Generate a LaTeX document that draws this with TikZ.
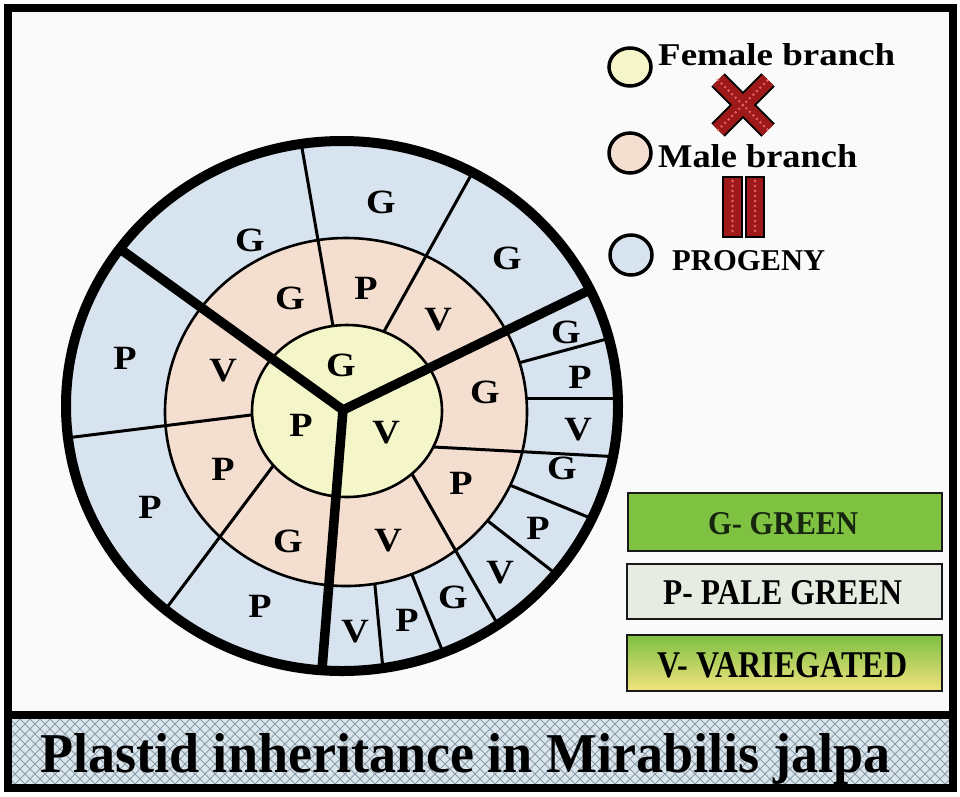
\documentclass[tikz,border=0pt]{standalone}
\usepackage{fontspec}
\setmainfont{Liberation Serif}
\usetikzlibrary{calc}
\definecolor{bluecell}{HTML}{D7E3EE}
\definecolor{pinkcell}{HTML}{F3DED0}
\definecolor{yelcell}{HTML}{F4F6C9}
\definecolor{boxgreen}{HTML}{7FC241}
\definecolor{boxpale}{HTML}{E7ECE3}
\definecolor{vtop}{HTML}{7DC042}
\definecolor{vmid}{HTML}{A9CF52}
\definecolor{vbot}{HTML}{F2E37E}
\definecolor{hatchbg}{HTML}{DAE6EE}
\definecolor{hatchln}{HTML}{8E9CA6}
\definecolor{crossred}{HTML}{9E1A1A}
\definecolor{dotred}{HTML}{E8676A}
\definecolor{gtext}{HTML}{17260F}
\definecolor{paper}{HTML}{FAFAFA}
\newcommand{\wl}[1]{\scalebox{1.12}[1]{#1}}
\begin{document}
\begin{tikzpicture}[x=1pt,y=-1pt,
  lt/.style={font=\fontsize{34}{34}\selectfont\bfseries, inner sep=0pt},
  lab/.style={anchor=base west, inner sep=0pt},
  thinl/.style={line width=3pt},
  thickl/.style={line width=9.5pt, line join=miter},
  ring/.style={draw=black, line width=2.6pt},
  legcirc/.style={draw=black, line width=3.5pt},
  legbox/.style={draw=black!90, line width=2pt},
  hatch/.style={draw=hatchln, line width=0.8pt},
  redbar/.style={fill=crossred, draw=black, line width=1.5pt},
  reddots/.style={draw=dotred, line width=2.6pt, line cap=round, dash pattern=on 0pt off 5pt}]
\useasboundingbox (0,0) rectangle (960,796);
\fill[white] (0,0) rectangle (960,796);
\fill[paper] (8,8) rectangle (953,715);

% ---------- big circle ----------
\begin{scope}
\clip (342,406) ellipse [x radius=276pt, y radius=265pt];
\fill[bluecell] (342,406) ellipse [x radius=276pt, y radius=265pt];
% progeny-only dividers
\draw[thinl] (500,368) -- (625,334);
\draw[thinl] (505,398) -- (630,398);
\draw[thinl] (495,479) -- (605,524);
\draw[thinl] (475,511) -- (565,581);
\draw[thinl] (405,557) -- (450,670);
\draw[thinl] (373,565) -- (384,680);
% male ring
\fill[pinkcell] (346,412) ellipse [x radius=181pt, y radius=174pt];
% through dividers
\draw[thinl] (338,355) -- (298,125);
\draw[thinl] (372,353) -- (485,150);
\draw[thinl] (275,412) -- (50,440);
\draw[thinl] (285,450) -- (150,630);
\draw[thinl] (415,446) -- (640,458);
\draw[thinl] (400,453) -- (518,660);
\draw[ring] (346,412) ellipse [x radius=181pt, y radius=174pt];
% female circle
\filldraw[fill=yelcell, ring] (347,411) ellipse [x radius=95pt, y radius=86pt];
% Y lines
\coordinate (J) at (343,410);
\coordinate (Ta) at (105,238);
\coordinate (Tb) at (600,285);
\coordinate (Tc) at (320,694);
\draw[thickl] (Ta) -- (J) -- (Tb);
\draw[thickl] (J) -- (Tc);
\end{scope}
\draw[line width=10pt] (342,406) ellipse [x radius=276pt, y radius=265pt];

% letters: female
\node[lt] (fG) at (341,365) {\wl{G}};
\node[lt] (fP) at (301,425) {\wl{P}};
\node[lt] (fV) at (386,433) {\wl{V}};
% letters: male
\node[lt] (m1) at (290,298) {\wl{G}};
\node[lt] (m2) at (366,288) {\wl{P}};
\node[lt] (m3) at (438,320) {\wl{V}};
\node[lt] (m4) at (223,371) {\wl{V}};
\node[lt] (m5) at (223,469) {\wl{P}};
\node[lt] (m6) at (288,541) {\wl{G}};
\node[lt] (m7) at (485,392) {\wl{G}};
\node[lt] (m8) at (461,483) {\wl{P}};
\node[lt] (m9) at (388,541) {\wl{V}};
% letters: progeny
\node[lt] (p1) at (250,240) {\wl{G}};
\node[lt] (p2) at (381,202) {\wl{G}};
\node[lt] (p3) at (507,258) {\wl{G}};
\node[lt] (p4) at (125,358) {\wl{P}};
\node[lt] (p5) at (150,507) {\wl{P}};
\node[lt] (p6) at (260,606) {\wl{P}};
\node[lt] (p7) at (566,332) {\wl{G}};
\node[lt] (p8) at (580,377) {\wl{P}};
\node[lt] (p9) at (578,430) {\wl{V}};
\node[lt] (p10) at (562,468) {\wl{G}};
\node[lt] (p11) at (538,528) {\wl{P}};
\node[lt] (p12) at (500,573) {\wl{V}};
\node[lt] (p13) at (453,597) {\wl{G}};
\node[lt] (p14) at (407,620) {\wl{P}};
\node[lt] (p15) at (355,632) {\wl{V}};

% ---------- key ----------
\filldraw[fill=yelcell, legcirc] (630,67) ellipse [x radius=21pt, y radius=19pt];
\filldraw[fill=pinkcell, legcirc] (630,153) ellipse [x radius=21pt, y radius=20pt];
\filldraw[fill=bluecell, legcirc] (631,255) ellipse [x radius=21pt, y radius=20pt];
\node[lab] (fem) at (658,65) {\resizebox{237pt}{22pt}{\bfseries Female branch}};
\node[lab] (mal) at (658,167) {\resizebox{199pt}{23pt}{\bfseries Male branch}};
\node[lab] (prog) at (672,270) {\resizebox{153pt}{20pt}{\bfseries PROGENY}};

% cross sign
\coordinate (xa) at (718,80);
\coordinate (xb) at (768,130);
\coordinate (xc) at (718,130);
\coordinate (xd) at (768,80);
\draw[line width=19pt, black] (xa) -- (xb) (xc) -- (xd);
\draw[line width=15pt, crossred] (xa) -- (xb) (xc) -- (xd);
\draw[reddots] (xa) -- (xb) (xc) -- (xd);
% equals sign
\filldraw[redbar] (723,177) rectangle (742,237);
\filldraw[redbar] (746,177) rectangle (764,237);
\draw[reddots] (732.5,181) -- (732.5,234);
\draw[reddots] (755,181) -- (755,234);

% colour boxes
\fill[boxgreen] (628,493) rectangle (942,551);
\draw[legbox] (628,493) rectangle (942,551);
\node[lab, text=gtext] (kg) at (708,534) {\resizebox{150pt}{22pt}{\bfseries G- GREEN}};
\fill[boxpale] (627,564) rectangle (942,619);
\draw[legbox] (627,564) rectangle (942,619);
\node[lab] (kp) at (663,604) {\resizebox{239pt}{24pt}{\bfseries P- PALE GREEN}};
\shade[top color=vtop, middle color=vmid, bottom color=vbot] (627,635) rectangle (942,691);
\draw[legbox] (627,635) rectangle (942,691);
\node[lab] (kv) at (657,677) {\resizebox{250pt}{25pt}{\bfseries V- VARIEGATED}};

% ---------- title band ----------
\begin{scope}
\clip (12,719) rectangle (949,784);
\fill[hatchbg] (12,719) rectangle (949,784);
\foreach \i in {-100,-90,...,1040} {
  \draw[hatch] (\i,719) -- ++(70,70);
  \draw[hatch] (\i,719) -- ++(-70,70);
}
\end{scope}
\node[lab] (title) at (40,772) {\resizebox{850pt}{39pt}{\bfseries Plastid inheritance in Mirabilis jalpa}};

% frame
\draw[line width=8pt] (8,8) rectangle (953,788);
\draw[line width=8pt] (8,715) -- (953,715);
\end{tikzpicture}
\end{document}
